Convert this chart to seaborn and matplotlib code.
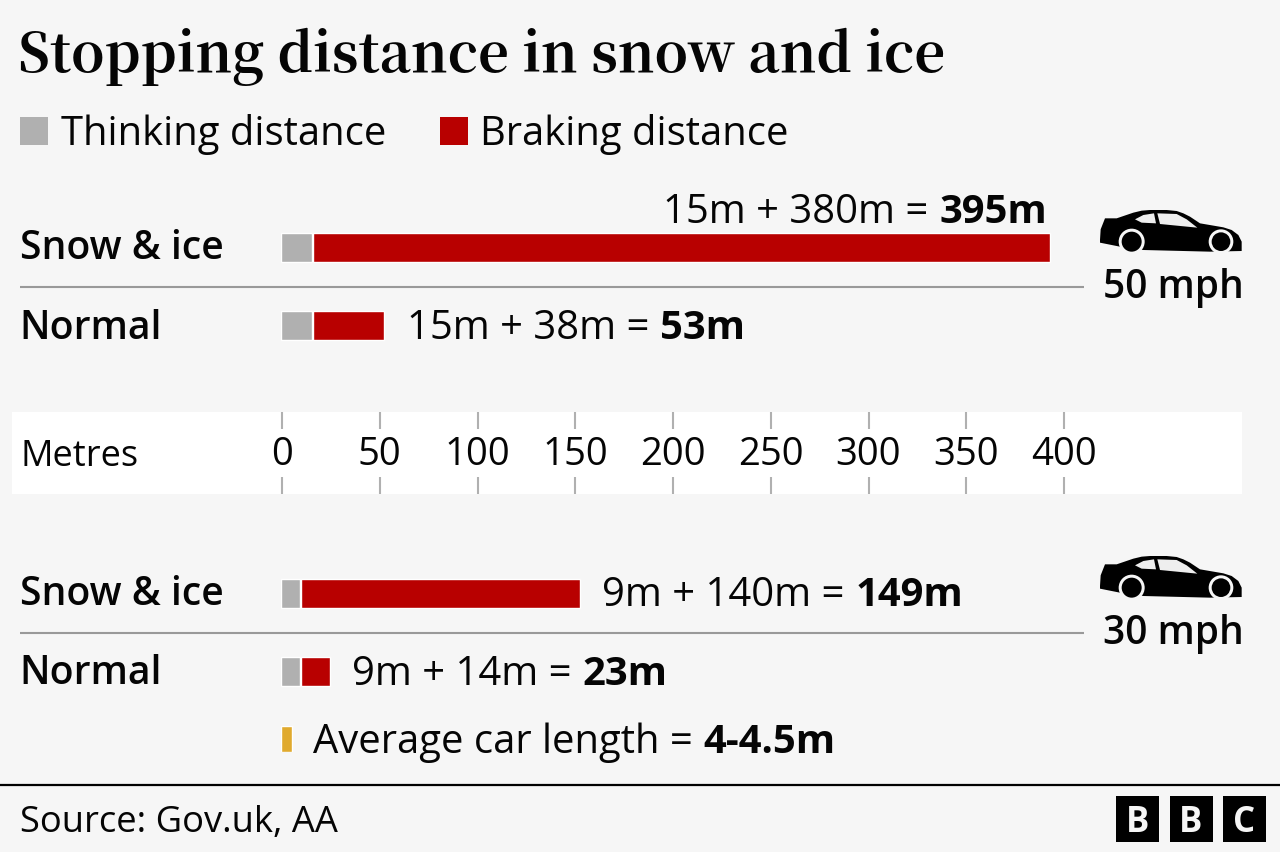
import matplotlib
matplotlib.use('Agg')
import matplotlib.pyplot as plt
from matplotlib.patches import Rectangle, Polygon, Circle
import pandas as pd
import seaborn as sns

# values printed on the chart
rows_top = ['Snow & ice 50', 'Normal 50']
rows_bottom = ['Snow & ice 30', 'Normal 30']
row_names = ['Snow & ice', 'Normal']
thinking_text = [15, 15, 9, 9]
braking_text = [380, 38, 140, 14]
total_text = [395, 53, 149, 23]

thinking_drawn = [15.8, 15.8, 9.5, 9.5]
braking_drawn = [376.7, 36.0, 142.5, 14.7]
car_length_drawn = [5.6]

ticks = [0, 50, 100, 150, 200, 250, 300, 350, 400]
speeds = ['50 mph', '30 mph']

BG = '#f6f6f6'
GREY = '#b0b0b0'
RED = '#b80000'
GOLD = '#e0aa2e'
LINE = '#999999'
INK = '#050505'
SANS = 'Open Sans'
SERIF = 'Noto Serif CJK JP'
TXT = 28.8

sns.set_theme(style='white')
plt.rcParams['font.family'] = [SANS, 'DejaVu Sans']

W, H = 1280, 852
fig = plt.figure(figsize=(W / 100, H / 100), dpi=100, facecolor=BG)


def ax_px(x0, y0, x1, y1, zorder=2):
    ax = fig.add_axes([x0 / W, 1 - y1 / H, (x1 - x0) / W, (y1 - y0) / H], zorder=zorder)
    ax.patch.set_alpha(0)
    return ax


# pixel overlay for the furniture
over = ax_px(0, 0, W, H, zorder=0)
over.set_xlim(0, W)
over.set_ylim(H, 0)
over.axis('off')


def bars(ax, rows, thinking, braking):
    df = pd.DataFrame({'row': rows, 'thinking': thinking, 'braking': braking})
    sns.barplot(data=df, y='row', x='thinking', order=rows, color=GREY, saturation=1,
                errorbar=None, width=0.37, ax=ax)
    sns.barplot(data=df, y='row', x='braking', order=rows, color=RED, saturation=1,
                errorbar=None, width=0.37, left=[t + 0.8 for t in thinking], ax=ax)
    ax.set_xlim(0, 400)
    ax.set_ylim(1.5, -0.5)
    ax.axis('off')


top = ax_px(281, 208.5, 1063, 364.5)
bars(top, rows_top, thinking_drawn[:2], braking_drawn[:2])
bottom = ax_px(281, 554.5, 1063, 710.5)
bars(bottom, rows_bottom, thinking_drawn[2:], braking_drawn[2:])

car_ax = ax_px(281, 726, 1063, 752)
sns.barplot(x=car_length_drawn, y=['Average car'], color=GOLD, saturation=1, errorbar=None,
            width=1, ax=car_ax)
car_ax.set_xlim(0, 400)
car_ax.set_ylim(0.5, -0.5)
car_ax.axis('off')

# metres scale strip
over.add_patch(Rectangle((12, 412), 1230, 82, color='white', lw=0))
scale = ax_px(282, 412, 1064, 494)
scale.set_xlim(0, 400)
scale.set_yticks([])
scale.set_xticks(ticks)
scale.set_xticklabels([str(t) for t in ticks], fontsize=27.5, color=INK)
scale.tick_params(axis='x', top=True, bottom=True, direction='in', length=12, width=1.5,
                  color=GREY, pad=-41.5)
for s in scale.spines.values():
    s.set_visible(False)
over.text(21, 466, 'Metres', fontsize=26, color=INK, va='baseline')

# title and legend
over.text(18, 72, 'Stopping distance in snow and ice', fontsize=38.7, fontweight='bold',
          family=SERIF, color=INK, va='baseline')
over.add_patch(Rectangle((20, 117), 28, 28, color=GREY, lw=0))
over.text(61, 145, 'Thinking distance', fontsize=TXT, color=INK, va='baseline')
over.add_patch(Rectangle((440, 117), 28, 28, color=RED, lw=0))
over.text(480, 145, 'Braking distance', fontsize=TXT, color=INK, va='baseline')

# row names and separators
for name, x, y in zip(row_names * 2, [20, 19, 20, 19], [259, 339, 605, 684]):
    over.text(x, y, name, fontsize=28.2, fontweight=600, color=INK, va='baseline')
for y in [287, 633]:
    over.plot([20, 1084], [y, y], color=LINE, lw=1.5, solid_capstyle='butt')

fig.canvas.draw()
rend = fig.canvas.get_renderer()


def mixed(x, y, plain, strong, right=False):
    a = over.text(x, y, plain, fontsize=TXT, color=INK, va='baseline')
    b = over.text(x, y, strong, fontsize=TXT, fontweight='bold', color=INK, va='baseline')
    wa = a.get_window_extent(rend).width
    wb = b.get_window_extent(rend).width
    gap = 11
    start = x - wa - gap - wb if right else x
    a.set_x(start)
    b.set_x(start + wa + gap)


label_x = [1047, 407, 602, 352]
label_y = [223, 339, 606, 685]
for i in range(4):
    plain = f'{thinking_text[i]}m + {braking_text[i]}m ='
    mixed(label_x[i], label_y[i], plain, f'{total_text[i]}m', right=i == 0)
mixed(313, 753, 'Average car length =', '4-4.5m')

# car icons
body = [(60, 150), (62, 118), (75, 85), (110, 85), (160, 68), (185, 62), (210, 60), (260, 60),
        (290, 63), (310, 70), (330, 80), (360, 100), (430, 112), (455, 120), (475, 135),
        (485, 155), (485, 183), (390, 185), (190, 180), (120, 170), (60, 158)]
win1 = [(165, 88), (190, 75), (222, 70), (228, 100), (185, 98)]
win2 = [(232, 70), (290, 72), (320, 88), (352, 113), (240, 102)]


def car(dy):
    pt = lambda p: (1080 + p[0] / 3, 190 + dy + p[1] / 3)
    over.add_patch(Polygon([pt(p) for p in body], color='black', lw=0))
    for w in (win1, win2):
        over.add_patch(Polygon([pt(p) for p in w], color='#eeeeee', lw=0))
    for cx, r in ((155, 30), (423, 28)):
        c = pt((cx, 155))
        over.add_patch(Circle(c, (r + 9) / 3, color=BG, lw=0))
        over.add_patch(Circle(c, r / 3, color='black', lw=0))


for speed, dy, y in zip(speeds, [0, 346], [298, 644]):
    car(dy)
    over.text(1173, y, speed, fontsize=28, fontweight=600, color=INK, ha='center',
              va='baseline')

# footer
over.plot([0, W], [785, 785], color='black', lw=1.6, solid_capstyle='butt')
over.text(20, 832, 'Source: Gov.uk, AA', fontsize=26.2, color=INK, va='baseline')
for x, letter in zip([1116, 1169.5, 1223], 'BBC'):
    over.add_patch(Rectangle((x, 796), 43, 46, color='black', lw=0))
    over.text(x + 21.5, 819, letter, fontsize=25, fontweight='bold', color=BG, ha='center',
              va='center_baseline')

fig.savefig('out.png', dpi=100)
